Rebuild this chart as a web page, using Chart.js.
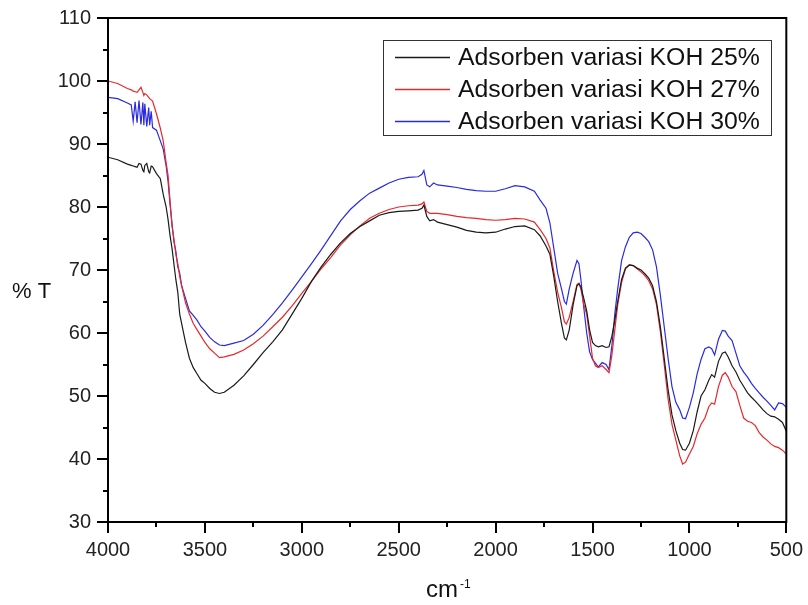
<!DOCTYPE html>
<html>
<head>
<meta charset="utf-8">
<script src="https://cdn.jsdelivr.net/npm/chart.js@4.4.1/dist/chart.umd.min.js"></script>
<style>
  html, body { margin: 0; padding: 0; background: #fff; }
  #wrap { width: 808px; height: 605px; }
</style>
</head>
<body>
<div id="wrap"><canvas id="ftir"></canvas></div>
<script>
// FTIR spectra (wavenumber in cm-1, transmittance in %)
var seriesNames = ['Adsorben variasi KOH 25%', 'Adsorben variasi KOH 27%', 'Adsorben variasi KOH 30%'];
var seriesColors = ['#1a1a1a', '#e8282a', '#2a2ae0'];

var wavenumbers = [4000, 3950, 3900, 3880, 3870, 3860, 3850, 3840, 3830, 3820, 3815, 3810, 3800, 3790, 3785, 3777, 3770, 3750, 3730, 3715, 3700, 3690, 3680, 3670, 3660, 3650, 3640, 3630, 3620, 3600, 3580, 3560, 3540, 3520, 3500, 3475, 3450, 3425, 3400, 3350, 3300, 3250, 3200, 3150, 3100, 3050, 3000, 2950, 2900, 2850, 2800, 2750, 2700, 2650, 2600, 2550, 2500, 2450, 2400, 2380, 2370, 2355, 2340, 2320, 2300, 2250, 2200, 2150, 2100, 2050, 2000, 1950, 1900, 1850, 1800, 1770, 1740, 1720, 1700, 1680, 1660, 1645, 1635, 1620, 1600, 1580, 1570, 1560, 1545, 1530, 1515, 1500, 1485, 1470, 1450, 1430, 1415, 1400, 1385, 1370, 1350, 1330, 1310, 1290, 1270, 1250, 1230, 1210, 1190, 1170, 1150, 1130, 1110, 1090, 1070, 1050, 1035, 1020, 1000, 980, 960, 940, 920, 900, 885, 870, 850, 830, 815, 800, 780, 760, 740, 720, 700, 680, 660, 640, 620, 600, 580, 560, 540, 520, 500];

var koh25 = [87.9, 87.5, 86.8, 86.6, 86.5, 86.4, 86.3, 86.9, 86.8, 85.8, 85.6, 86.6, 86.9, 85.6, 85.4, 86.5, 86.4, 85.3, 84.5, 82, 80, 78, 75.5, 73.5, 71, 68.5, 66.5, 63, 61.5, 58.5, 56, 54.5, 53.5, 52.5, 52, 51.2, 50.6, 50.4, 50.6, 51.7, 53.2, 55.0, 56.9, 58.6, 60.5, 63, 65.5, 68.2, 70.5, 72.5, 74.3, 75.8, 76.9, 77.8, 78.7, 79.1, 79.3, 79.4, 79.5, 79.8, 80.3, 78.5, 77.8, 78, 77.6, 77.2, 76.8, 76.3, 76.0, 75.9, 76.0, 76.5, 76.9, 77.0, 76.4, 75.4, 73.8, 72.5, 69, 65, 61.5, 59.2, 58.9, 60.5, 64.5, 67.5, 67.8, 67.3, 65.5, 63.5, 60.5, 58.5, 58, 57.8, 58, 57.7, 57.8, 59.5, 62, 65, 68.5, 70.3, 70.8, 70.7, 70.3, 70.0, 69.4, 68.7, 67.5, 65, 61, 56, 51, 47, 44.5, 42.5, 41.5, 41.4, 42.5, 44.5, 47.5, 50, 51, 52.5, 53.4, 53, 55.5, 56.8, 57, 56.2, 54.8, 53.8, 52.5, 51.5, 50.5, 49.8, 49.2, 48.5, 47.8, 47.2, 46.8, 46.7, 46.3, 45.8, 44.4];

var koh27 = [100, 99.6, 98.8, 98.6, 98.4, 98.3, 98.2, 98.6, 99, 98.2, 97.7, 98.0, 97.8, 97.4, 97.2, 97.0, 96.8, 94.8, 92.5, 90.5, 87, 85, 81, 77, 75, 72.5, 71, 69, 67.5, 64.8, 63, 61.5, 60.5, 59.5, 58.5, 57.5, 56.8, 56.1, 56.2, 56.6, 57.3, 58.3, 59.5, 61, 62.5, 64.3, 66.3, 68.2, 70.2, 72, 74, 75.6, 77, 78.2, 79, 79.6, 80.0, 80.2, 80.3, 80.5, 80.8, 79.3, 79.0, 79, 79.0, 78.8, 78.5, 78.3, 78.2, 78, 77.9, 78, 78.2, 78.1, 77.6, 76.4, 75, 73.5, 69.8, 66.5, 64, 61.8, 61.4, 62.5, 65, 67.7, 67.9, 67, 64.5, 63, 59.5, 56, 54.8, 54.5, 54.8, 54.2, 53.7, 56.5, 60.5, 64.5, 68, 70.2, 70.8, 70.7, 70.2, 69.7, 69.1, 68.3, 67, 64.5, 60.2, 55, 49.5, 45.5, 43, 40.5, 39.2, 39.5, 40.8, 42, 44, 45.5, 46.5, 48.3, 48.9, 48.7, 51.5, 53.3, 53.7, 53, 51.5, 50.7, 48.5, 46.5, 46, 45.8, 45.3, 44.2, 43.5, 43, 42.4, 42, 41.8, 41.4, 40.8];

var koh30 = [97.4, 97.2, 96.5, 96.2, 93.6, 96.7, 93.4, 96.9, 93.1, 96.6, 93.0, 96.4, 92.8, 95.8, 93.0, 95.2, 92.6, 92.2, 90.5, 89.2, 86.5, 84, 80.5, 77.5, 74.5, 73, 70.5, 69.5, 67.5, 65.5, 63.5, 62.8, 62, 61, 60.3, 59.3, 58.6, 58.1, 58.0, 58.4, 58.8, 59.8, 61.2, 62.9, 64.8, 66.8, 68.9, 71, 73.2, 75.5, 77.8, 79.6, 81.0, 82.2, 83.0, 83.8, 84.4, 84.7, 84.8, 85.2, 85.8, 83.5, 83.2, 83.8, 83.5, 83.3, 83.1, 82.8, 82.6, 82.5, 82.5, 82.9, 83.4, 83.2, 82.5, 81.1, 79.8, 77.5, 73.5, 69.5, 67, 65, 64.6, 67, 69.5, 71.5, 71, 68.5, 64, 60, 57, 55.8, 55.2, 54.6, 55.3, 55, 54.2, 58, 63, 67, 71.5, 73.7, 75.2, 75.9, 76.0, 75.8, 75.2, 74.5, 73.2, 70.5, 66, 61, 56, 51.5, 49, 47.8, 46.5, 46.4, 48.2, 50.5, 53.5, 55.8, 57.5, 57.8, 57.5, 56.5, 59, 60.4, 60.3, 59.5, 58.8, 56.8, 54.8, 53.8, 53, 52, 51.2, 50.5, 49.8, 49.2, 48.5, 47.8, 48.9, 48.8, 48.2];

var allSeries = [koh25, koh27, koh30];

function toPoints(vals) {
  return wavenumbers.map(function(w, i) { return { x: w, y: vals[i] }; });
}

var font = "'Liberation Sans', Arial, sans-serif";

// frame, outward ticks (major + minor), axis titles and the boxed legend
var decor = {
  id: 'decor',
  afterDraw: function(chart) {
    var ctx = chart.ctx;
    var a = chart.chartArea;
    var sx = chart.scales.x, sy = chart.scales.y;
    ctx.save();
    ctx.strokeStyle = '#000';
    ctx.lineWidth = 2;
    ctx.strokeRect(a.left, a.top, a.right - a.left, a.bottom - a.top);

    ctx.beginPath();
    sy.ticks.forEach(function(t) {
      var py = Math.round(sy.getPixelForValue(t.value));
      var len = t.value % 10 === 0 ? 11 : 5;
      ctx.moveTo(a.left - len, py);
      ctx.lineTo(a.left, py);
    });
    sx.ticks.forEach(function(t) {
      var px = Math.round(sx.getPixelForValue(t.value));
      var len = t.value % 500 === 0 ? 11 : 5;
      ctx.moveTo(px, a.bottom);
      ctx.lineTo(px, a.bottom + len);
    });
    ctx.stroke();

    // axis titles
    ctx.fillStyle = '#111';
    ctx.textBaseline = 'alphabetic';
    ctx.textAlign = 'left';
    ctx.font = '22px ' + font;
    ctx.fillText('% T', 12, 298);
    ctx.font = '24px ' + font;
    ctx.fillText('cm', 426, 597);
    ctx.font = '12px ' + font;
    ctx.fillText('-1', 460, 588);

    // legend
    var lx = 383, ly = 40, lw = 388, lh = 95;
    ctx.lineWidth = 1;
    ctx.strokeStyle = '#333';
    ctx.strokeRect(lx + 0.5, ly + 0.5, lw, lh);
    ctx.font = '24.8px ' + font;
    ctx.textBaseline = 'middle';
    chart.data.datasets.forEach(function(ds, i) {
      var yy = 57 + i * 32;
      ctx.strokeStyle = seriesColors[i];
      ctx.lineWidth = 1.3;
      ctx.beginPath();
      ctx.moveTo(395, yy + 0.5);
      ctx.lineTo(450, yy + 0.5);
      ctx.stroke();
      ctx.fillStyle = '#111';
      ctx.fillText(ds.label, 458, yy + 1);
    });
    ctx.restore();
  }
};

var chart = new Chart(document.getElementById('ftir'), {
  type: 'line',
  data: {
    datasets: allSeries.map(function(vals, i) {
      return {
        label: seriesNames[i],
        data: toPoints(vals),
        borderColor: seriesColors[i],
        borderWidth: 1.2,
        pointRadius: 0,
        tension: 0,
        fill: false
      };
    })
  },
  options: {
    responsive: true,
    maintainAspectRatio: false,
    animation: false,
    layout: { padding: { left: 0, top: 17, right: 18, bottom: 0 } },
    plugins: {
      legend: { display: false },
      tooltip: { enabled: false }
    },
    scales: {
      x: {
        type: 'linear',
        reverse: true,
        min: 500,
        max: 4000,
        grid: { drawOnChartArea: false, color: 'transparent', tickLength: 11 },
        border: { display: false },
        ticks: {
          stepSize: 250,
          autoSkip: false,
          maxRotation: 0,
          padding: 5,
          color: '#222',
          font: { family: font, size: 20 },
          callback: function(v) { return v % 500 === 0 ? String(v) : ''; }
        },
        afterFit: function(s) { s.height = 605 - 522; }
      },
      y: {
        min: 30,
        max: 110,
        grid: { drawOnChartArea: false, color: 'transparent', tickLength: 11 },
        border: { display: false },
        ticks: {
          stepSize: 5,
          autoSkip: false,
          padding: 6,
          color: '#222',
          font: { family: font, size: 20 },
          callback: function(v) { return v % 10 === 0 ? String(v) : ''; }
        },
        afterFit: function(s) { s.width = 108; }
      }
    }
  },
  plugins: [decor]
});
</script>
</body>
</html>
